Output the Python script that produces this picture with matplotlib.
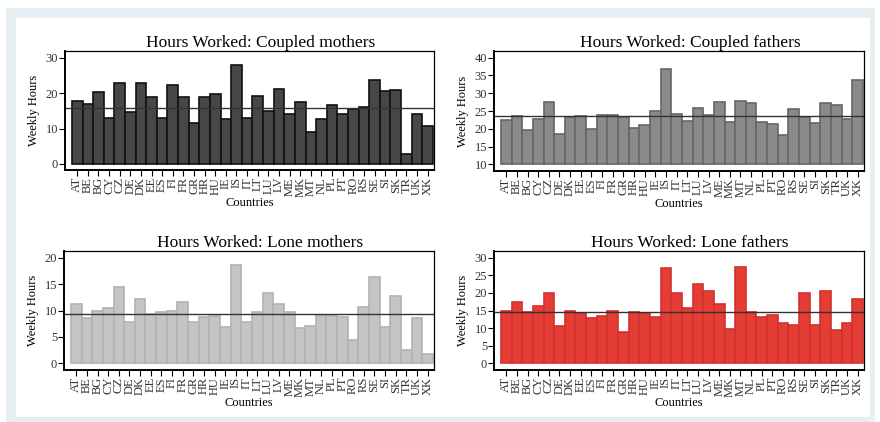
import numpy as np
import matplotlib.pyplot as plt
from matplotlib.patches import Rectangle

plt.rcParams['font.family'] = ['Liberation Serif', 'DejaVu Serif']

countries = ['AT', 'BE', 'BG', 'CY', 'CZ', 'DE', 'DK', 'EE', 'ES', 'FI', 'FR', 'GR',
             'HR', 'HU', 'IE', 'IS', 'IT', 'LT', 'LU', 'LV', 'ME', 'MK', 'MT', 'NL',
             'PL', 'PT', 'RO', 'RS', 'SE', 'SI', 'SK', 'TR', 'UK', 'XK']

coupled_mothers = [17.9, 16.9, 20.2, 13.1, 22.8, 14.6, 22.8, 19.0, 13.1, 22.4, 19.0, 11.7,
                   19.0, 19.9, 12.6, 27.9, 13.1, 19.2, 15.1, 21.3, 14.1, 17.4, 9.1, 12.6,
                   16.7, 14.2, 15.4, 16.0, 23.7, 20.7, 21.0, 2.7, 14.1, 10.8]
coupled_fathers = [22.6, 23.6, 19.7, 22.8, 27.4, 18.6, 23.4, 23.6, 19.8, 23.8, 23.8, 23.4,
                   20.3, 21.1, 25.1, 36.9, 24.1, 22.2, 25.8, 23.8, 27.6, 21.9, 27.9, 27.2,
                   21.9, 21.4, 18.3, 25.5, 23.4, 21.6, 27.2, 26.7, 22.8, 33.6]
lone_mothers = [11.2, 8.5, 9.9, 10.4, 14.4, 7.8, 12.1, 9.4, 9.7, 10.0, 11.7, 7.8,
                8.7, 8.9, 6.8, 18.7, 7.9, 9.8, 13.4, 11.3, 9.8, 6.6, 7.1, 9.1,
                8.9, 8.7, 4.5, 10.6, 16.4, 6.9, 12.7, 2.6, 8.5, 1.7]
lone_fathers = [14.8, 17.3, 14.5, 16.2, 20.1, 10.5, 15.0, 14.3, 12.8, 13.3, 14.8, 8.8,
                14.5, 14.3, 13.1, 27.0, 19.9, 15.6, 22.6, 20.5, 16.9, 9.8, 27.4, 14.5,
                13.1, 13.6, 11.4, 10.8, 19.9, 10.8, 20.6, 9.6, 11.4, 18.4]

means = [15.9, 23.7, 9.4, 14.5]

panels = [
    ('Coupled mothers', coupled_mothers, '#474747', '#111111', (0, 10, 20, 30), (-1.7, 31.9), 0),
    ('Coupled fathers', coupled_fathers, '#8a8a8a', '#666666', (10, 15, 20, 25, 30, 35, 40), (8.1, 41.9), 10),
    ('Lone mothers', lone_mothers, '#c4c4c4', '#b2b2b2', (0, 5, 10, 15, 20), (-1.26, 21.26), 0),
    ('Lone fathers', lone_fathers, '#e33d35', '#d3312b', (0, 5, 10, 15, 20, 25, 30), (-1.9, 31.9), 0),
]

W, H = 880, 422
fig = plt.figure(figsize=(W / 100, H / 100), dpi=100)
fig.patch.set_facecolor('white')

# light frame around the figure
fig.patches.append(Rectangle((6 / W, 0), 869 / W, 1 - 8 / H, transform=fig.transFigure,
                             facecolor='#e8eff2', edgecolor='none', zorder=-2))
fig.patches.append(Rectangle((16 / W, 5 / H), 854 / W, 1 - 23 / H, transform=fig.transFigure,
                             facecolor='white', edgecolor='none', zorder=-1))

# axes boxes in pixels: left, top, right, bottom
boxes = [(65, 51, 434, 170), (494, 51, 864, 171), (64, 251, 434, 370), (494, 251, 864, 370)]

x = np.arange(len(countries))
for (name, vals, fc, ec, yt, ylim, base), (l, t, r, b), m in zip(panels, boxes, means):
    ax = fig.add_axes([l / W, 1 - b / H, (r - l) / W, (b - t) / H])
    vals = np.array(vals)
    ax.bar(x, vals - base, bottom=base, width=1.0, color=fc, edgecolor=ec, linewidth=1.2)
    ax.axhline(m, color='#333333', linewidth=1.0)
    ax.set_xlim(-1.15, len(countries) - 0.4)
    ax.set_ylim(*ylim)
    ax.set_yticks(yt)
    ax.set_xticks(x)
    ax.set_xticklabels(countries, rotation=90, fontsize=9, color='#333333')
    ax.tick_params(axis='y', labelsize=9, labelcolor='#333333', length=4, width=0.8, pad=1)
    ax.tick_params(axis='x', length=4, width=0.8, pad=1)
    for s in ax.spines.values():
        s.set_color('black')
        s.set_linewidth(0.9)
    ax.spines['left'].set_linewidth(1.4)
    ax.spines['bottom'].set_linewidth(1.4)
    ax.set_title('Hours Worked: ' + name, fontsize=12.5, pad=3, x=0.53)
    ax.set_ylabel('Weekly Hours', fontsize=9, labelpad=4)
    ax.set_xlabel('Countries', fontsize=9, labelpad=0)

fig.savefig('out.png', dpi=100)
